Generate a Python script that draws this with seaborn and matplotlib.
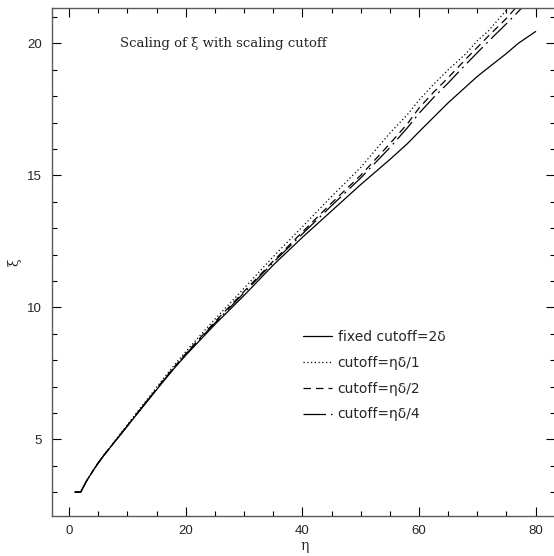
import numpy as np
import pandas as pd
import matplotlib
matplotlib.use("Agg")
import matplotlib.pyplot as plt
from matplotlib.ticker import MultipleLocator
import seaborn as sns

# values
eta = [1, 2, 3, 4, 5, 6, 8, 10, 12, 14, 16, 18, 20, 22, 25, 30, 35, 40, 45, 50,
       55, 58, 60, 62.5, 65, 68, 70, 72, 75, 77, 80]

xi_fixed = [3.0, 3.0, 3.42, 3.77, 4.1, 4.4, 4.95, 5.5, 6.05, 6.6, 7.15, 7.68, 8.18, 8.65,
            9.35, 10.45, 11.6, 12.65, 13.65, 14.65, 15.6, 16.2, 16.65, 17.2, 17.75,
            18.35, 18.75, 19.1, 19.62, 20.0, 20.45]
xi_cut1 = [3.0, 3.0, 3.42, 3.78, 4.12, 4.42, 4.98, 5.55, 6.12, 6.68, 7.25, 7.8, 8.32, 8.82,
           9.55, 10.72, 11.92, 13.05, 14.2, 15.3, 16.6, 17.3, 17.85, 18.45, 19.0,
           19.6, 20.1, 20.5, 21.26, 21.8, 22.5]
xi_cut2 = [3.0, 3.0, 3.42, 3.77, 4.1, 4.4, 4.96, 5.52, 6.08, 6.63, 7.19, 7.73, 8.24, 8.73,
           9.45, 10.6, 11.75, 12.85, 13.95, 15.0, 16.2, 16.95, 17.55, 18.15, 18.7,
           19.4, 19.85, 20.3, 20.95, 21.45, 22.1]
xi_cut4 = [3.0, 3.0, 3.42, 3.77, 4.1, 4.4, 4.95, 5.51, 6.07, 6.62, 7.17, 7.71, 8.22, 8.7,
           9.4, 10.55, 11.7, 12.78, 13.85, 14.9, 16.05, 16.8, 17.35, 17.95, 18.5,
           19.2, 19.65, 20.1, 20.75, 21.2, 21.9]

labels = ["fixed cutoff=2δ", "cutoff=ηδ/1", "cutoff=ηδ/2", "cutoff=ηδ/4"]

frames = []
for lab, vals in zip(labels, [xi_fixed, xi_cut1, xi_cut2, xi_cut4]):
    frames.append(pd.DataFrame({"eta": eta, "xi": vals, "curve": lab}))
df = pd.concat(frames, ignore_index=True)

sns.set_style("ticks")
plt.rcParams["font.family"] = ["DejaVu Sans"]

fig = plt.figure(figsize=(5.54, 5.56), dpi=100)
ax = fig.add_axes([51.7 / 554, 40.3 / 556, 502.8 / 554, 507.4 / 556])

dash_map = {labels[0]: "", labels[1]: (1, 2), labels[2]: (6, 4), labels[3]: (18, 4, 1.5, 4)}
sns.lineplot(data=df, x="eta", y="xi", hue="curve", style="curve",
             palette=["black"] * 4, dashes=dash_map, estimator=None, sort=False,
             linewidth=0.9, ax=ax, legend=True)

ax.set_xlim(-2.97, 83.23)
ax.set_ylim(2.106, 21.33)
ax.xaxis.set_major_locator(MultipleLocator(20))
ax.xaxis.set_minor_locator(MultipleLocator(5))
ax.yaxis.set_major_locator(MultipleLocator(5))
ax.yaxis.set_minor_locator(MultipleLocator(1))
ax.tick_params(which="both", direction="in", top=True, right=True, color="black",
               width=0.8)
ax.tick_params(which="major", length=6.5, pad=7, labelsize=9.5)
ax.tick_params(which="minor", length=3.6)
for lbl in ax.get_xticklabels() + ax.get_yticklabels():
    lbl.set_family("Liberation Sans")
for sp in ax.spines.values():
    sp.set_color("0.35")
    sp.set_linewidth(1.0)

ax.set_xlabel("")
ax.set_ylabel("")
fig.text(305 / 554, 1 - 546 / 556, "η", ha="center", va="center",
         family="DejaVu Serif", fontsize=10)
fig.text(15 / 554, 1 - 262 / 556, "ξ", ha="center", va="center", rotation=90,
         family="DejaVu Serif", fontsize=10)

ax.text(0.135, 0.931, "Scaling of ξ with scaling cutoff", transform=ax.transAxes,
        ha="left", va="center", family="DejaVu Serif", fontsize=9.5)

handles, labs = ax.get_legend_handles_labels()
leg = ax.legend(handles, labs, loc="upper left", bbox_to_anchor=(0.499, 0.366),
                frameon=False, fontsize=10, handlelength=2.1, handletextpad=0.43,
                labelspacing=0.85, borderpad=0, borderaxespad=0)

fig.savefig("out.png", dpi=100)
